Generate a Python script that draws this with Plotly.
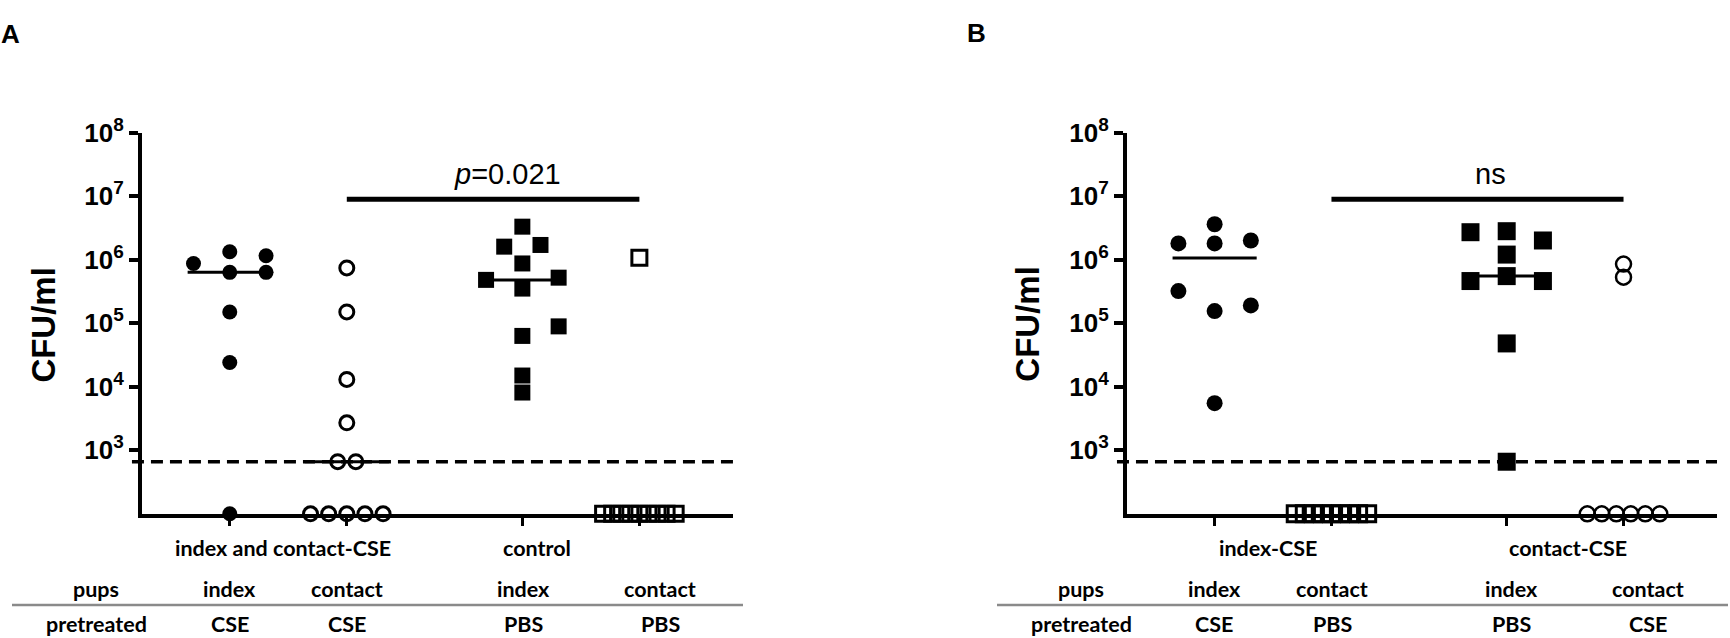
import numpy as np
import plotly.graph_objects as go

W, H = 1730, 638

# CFU/ml per pup; pups below detection sit on the axis at 10^2
LOD = 660
BELOW = 100

# panel A
a_index_cse = [8.7e5, 1.33e6, 1.15e6, 6.3e5, 6.3e5, 1.5e5, 2.4e4, BELOW]
a_contact_cse = [7.4e5, 1.5e5, 1.3e4, 2.7e3, LOD, LOD] + [BELOW] * 5
a_index_pbs = [3.3e6, 1.6e6, 1.7e6, 8.7e5, 4.8e5, 5.2e5, 3.5e5, 8.9e4, 6.3e4, 1.5e4, 8.1e3]
a_contact_pbs = [1.07e6] + [BELOW] * 9

# panel B
b_index_cse = [3.6e6, 1.8e6, 1.8e6, 2.0e6, 3.2e5, 1.55e5, 1.9e5, 5.5e3]
b_contact_pbs = [BELOW] * 9
b_index_pbs = [2.7e6, 2.8e6, 2.0e6, 1.2e6, 4.6e5, 5.5e5, 4.6e5, 4.8e4, LOD]
b_contact_cse = [8.5e5, 5.3e5] + [BELOW] * 6

# horizontal scatter slots (dot plot arrangement)
a_index_cse_slot = [-2, 0, 2, 0, 2, 0, 0, 0]
a_contact_cse_slot = [0, 0, 0, 0, -0.5, 0.5, -2, -1, 0, 1, 2]
a_index_pbs_slot = [0, -1, 1, 0, -2, 2, 0, 2, 0, 0, 0]
a_contact_pbs_slot = [0, -2, -1.5, -1, -0.5, 0, 0.5, 1, 1.5, 2]
b_index_cse_slot = [0, -2, 0, 2, -2, 0, 2, 0]
b_contact_pbs_slot = [-2, -1.5, -1, -0.5, 0, 0.5, 1, 1.5, 2]
b_index_pbs_slot = [-2, 0, 2, 0, -2, 0, 2, 0, 0]
b_contact_cse_slot = [0, 0, -2, -1.2, -0.4, 0.4, 1.2, 2]

columns = [1, 2, 3.5, 4.5]
pups = ["index", "contact", "index", "contact"]
a_pretreated = ["CSE", "CSE", "PBS", "PBS"]
b_pretreated = ["CSE", "PBS", "PBS", "CSE"]
a_groups = ["index and contact-CSE", "control"]
b_groups = ["index-CSE", "contact-CSE"]
a_stat = "<i>p</i>=0.021"
b_stat = "ns"
stat_level = 8.9e6
decades = [3, 4, 5, 6, 7, 8]

SLOT = 0.155


def px(x):
    return x / W


def py(y):
    return 1 - y / H


fig = go.Figure()

panels = [
    ("x", "y", [
        (a_index_cse, a_index_cse_slot, "circle", 15, 0),
        (a_contact_cse, a_contact_cse_slot, "circle-open", 14, 3),
        (a_index_pbs, a_index_pbs_slot, "square", 16, 0),
        (a_contact_pbs, a_contact_pbs_slot, "square-open", 15, 3),
    ]),
    ("x2", "y2", [
        (b_index_cse, b_index_cse_slot, "circle", 16, 0),
        (b_contact_pbs, b_contact_pbs_slot, "square-open", 16, 3),
        (b_index_pbs, b_index_pbs_slot, "square", 18, 0),
        (b_contact_cse, b_contact_cse_slot, "circle-open", 15, 2.5),
    ]),
]

for xa, ya, groups in panels:
    for pos, (vals, slots, sym, size, lw) in zip(columns, groups):
        med = np.median(vals)
        if med > BELOW:
            fig.add_trace(go.Scatter(
                x=[pos - 0.36, pos + 0.36], y=[med, med], mode="lines",
                line=dict(color="black", width=3), xaxis=xa, yaxis=ya,
                showlegend=False, hoverinfo="skip",
            ))
        fig.add_trace(go.Scatter(
            x=[pos + s * SLOT for s in slots], y=vals, mode="markers",
            marker=dict(symbol=sym, size=size, color="black",
                        line=dict(color="black", width=lw)),
            xaxis=xa, yaxis=ya, cliponaxis=False, showlegend=False,
        ))
    # significance bar
    fig.add_trace(go.Scatter(
        x=[columns[1], columns[3]], y=[stat_level, stat_level], mode="lines",
        line=dict(color="black", width=5), xaxis=xa, yaxis=ya,
        showlegend=False, hoverinfo="skip",
    ))
    # detection limit
    fig.add_shape(type="line", xref=f"{xa} domain", yref=ya,
                  x0=-0.017, x1=1, y0=LOD, y1=LOD,
                  line=dict(color="black", width=3.5, dash="12px,7px"), layer="below")

yaxis_style = dict(
    type="log", range=[2, 8],
    tickvals=[10.0 ** k for k in decades],
    ticktext=[f"10<sup><span style='font-size:19px'>{k}</span></sup>" for k in decades],
    tickfont=dict(family="Liberation Sans", size=26, color="black", weight="bold"),
    ticks="outside", ticklen=9, tickwidth=4, tickcolor="black",
    showline=True, linewidth=4, linecolor="black",
    showgrid=False, zeroline=False,
)
xaxis_style = dict(
    range=[0.25, 5.3], tickvals=columns, showticklabels=False,
    ticks="outside", ticklen=8, tickwidth=3, tickcolor="black",
    showline=True, linewidth=4, linecolor="black",
    showgrid=False, zeroline=False,
)

fig.update_layout(
    width=W, height=H,
    margin=dict(l=0, r=0, t=0, b=0),
    paper_bgcolor="white", plot_bgcolor="white",
    xaxis=dict(domain=[px(142), px(733)], anchor="y", **xaxis_style),
    yaxis=dict(domain=[py(510), py(117)], anchor="x", **yaxis_style),
    xaxis2=dict(domain=[px(1127), px(1717)], anchor="y2", **xaxis_style),
    yaxis2=dict(domain=[py(510), py(117)], anchor="x2", **yaxis_style),
)

arial = "Liberation Sans"
lato = "Lato"


def label(text, x, y, size, family, bold=True, angle=0):
    fig.add_annotation(
        text=text, x=px(x), y=py(y),
        xref="paper", yref="paper", showarrow=False, textangle=angle,
        xanchor="center", yanchor="middle",
        font=dict(family=family, size=size, color="black",
                  weight="bold" if bold else "normal"),
    )


# panel letters and y titles
label("A", 10, 15, 26, arial)
label("B", 976, 14, 26, arial)
label("CFU/ml", 44, 315, 33, arial, angle=-90)
label("CFU/ml", 1028, 314, 33, arial, angle=-90)
label(a_stat, 507, 160, 29, arial, bold=False)
label(b_stat, 1490, 160, 29, arial, bold=False)

# table under each panel
for x0, colx, groups, groupx, pre in [
    (0, [230, 347, 523, 660], a_groups, [283, 537], a_pretreated),
    (985, [1214, 1332, 1511, 1648], b_groups, [1268, 1568], b_pretreated),
]:
    for g, gx in zip(groups, groupx):
        label(g, gx, 545, 21.5, lato)
    label("pups", x0 + 96, 587, 21.5, lato)
    label("pretreated", x0 + 96, 624, 21.5, lato)
    for cx, p, t in zip(colx, pups, pre):
        label(p, cx, 587, 21.5, lato)
        label(t, cx, 624, 21.5, lato)
    fig.add_shape(type="line", xref="paper", yref="paper",
                  x0=px(x0 + 12), x1=px(min(x0 + 743, W)), y0=py(604), y1=py(604),
                  line=dict(color="#8a8a8a", width=2.5))

fig.write_html(
    "out.html",
    config={"displayModeBar": False},
    post_script="document.body.style.margin='0';document.body.style.overflow='hidden';",
)
